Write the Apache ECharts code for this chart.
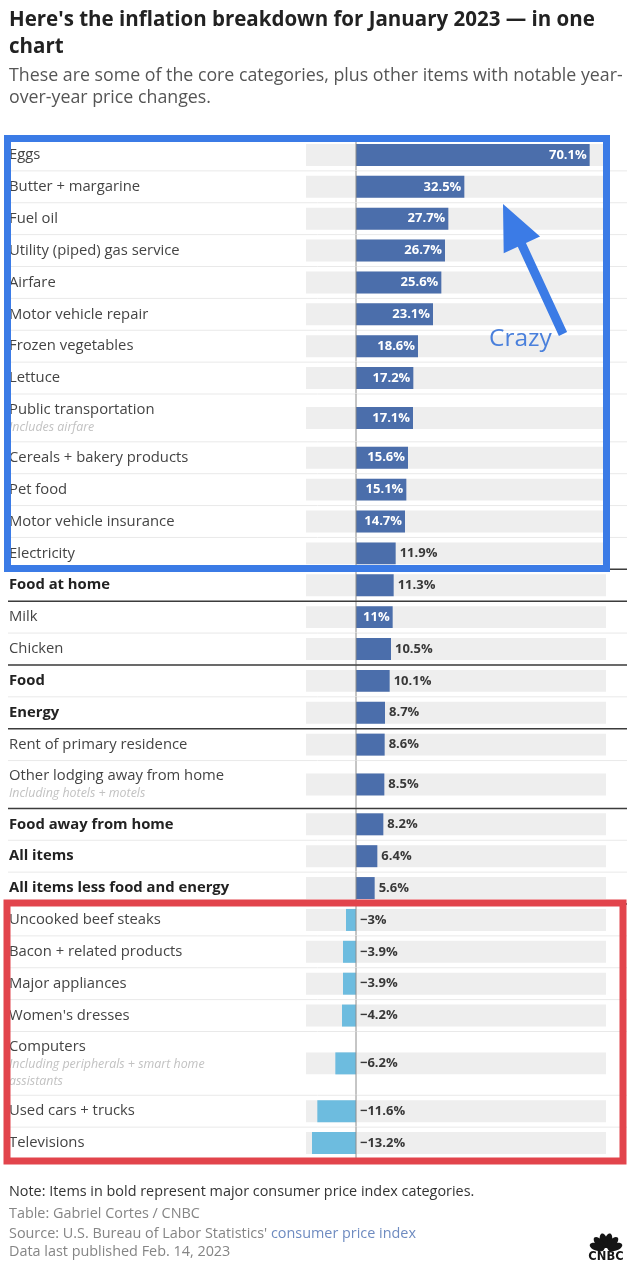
<!DOCTYPE html>
<html>
<head>
<meta charset="utf-8">
<script src="https://cdn.jsdelivr.net/npm/echarts@6/dist/echarts.min.js"></script>
<style>
html,body{margin:0;padding:0;background:#fff;}
#chart{width:630px;height:1280px;}
</style>
</head>
<body>
<div id="chart"></div>
<script>
// ---------- DATA ----------
const categories = [
  'Eggs','Butter + margarine','Fuel oil','Utility (piped) gas service','Airfare',
  'Motor vehicle repair','Frozen vegetables','Lettuce','Public transportation',
  'Cereals + bakery products','Pet food','Motor vehicle insurance','Electricity',
  'Food at home','Milk','Chicken','Food','Energy','Rent of primary residence',
  'Other lodging away from home','Food away from home','All items',
  'All items less food and energy','Uncooked beef steaks','Bacon + related products',
  'Major appliances',"Women's dresses",'Computers','Used cars + trucks','Televisions'
];
const values = [
  70.1,32.5,27.7,26.7,25.6,23.1,18.6,17.2,17.1,15.6,15.1,14.7,11.9,
  11.3,11,10.5,10.1,8.7,8.6,8.5,8.2,6.4,5.6,
  -3,-3.9,-3.9,-4.2,-6.2,-11.6,-13.2
];
const notes = [
  '','','','','','','','','Includes airfare','','','','',
  '','','','','','','Including hotels + motels','','','',
  '','','','','Including peripherals + smart home assistants','',''
];
const majorCategories = ['Food at home','Food','Energy','Food away from home','All items','All items less food and energy'];
const groupStarts = ['Food at home','Milk','Food','Rent of primary residence','Food away from home','Uncooked beef steaks'];
const axisMin = -15, axisMax = 75;

// ---------- LAYOUT HELPERS ----------
const FONT = '"Open Sans", Lato, sans-serif';
const POS = '#4b6eab', NEG = '#6dbcdf';
const cv = document.createElement('canvas').getContext('2d');
function textW(t, font){ cv.font = font; return cv.measureText(t).width; }
const NOTE_FONT = 'italic 12.4px ' + FONT;
const NOTE_W = 232;
const rowUnits = notes.map(n => {
  if (!n) return 1;
  const lines = textW(n, NOTE_FONT) > NOTE_W ? 2 : 1;
  return 1 + 0.5 * lines;
});
const rowStart = [];
let acc = 0;
rowUnits.forEach((u,i) => { rowStart.push(acc); acc += u; });
const totalUnits = acc;
const yCenters = rowUnits.map((u,i) => rowStart[i] + u/2);
const fmt = v => (v < 0 ? '\u2212' : '') + Math.abs(v) + '%';

const chart = echarts.init(document.getElementById('chart'), null, {renderer:'canvas'});

function renderItem(params, api) {
  const i = api.value(2);
  const v = api.value(0);
  const yc = api.value(1);
  const top = api.coord([0, rowStart[i]])[1];
  const bottom = api.coord([0, rowStart[i] + rowUnits[i]])[1];
  const cy = api.coord([0, yc])[1];
  const x0 = api.coord([0, yc])[0];
  const xv = api.coord([v, yc])[0];
  const xl = api.coord([axisMin, yc])[0];
  const xr = api.coord([axisMax, yc])[0];
  const bh = api.size([0, 1])[1] * 0.69;
  const name = categories[i];
  const bold = majorCategories.indexOf(name) >= 0;
  const note = notes[i];
  const children = [];
  children.push({type:'rect', shape:{x:xl, y:cy-bh/2, width:xr-xl, height:bh}, style:{fill:'#eeeeee'}});
  children.push({type:'rect', shape:{x:Math.min(x0,xv), y:cy-bh/2, width:Math.abs(xv-x0), height:bh}, style:{fill: v >= 0 ? POS : NEG}});
  children.push({type:'line', shape:{x1:x0, y1:top, x2:x0, y2:bottom}, style:{stroke:'#8c8c8c', lineWidth:1}});
  if (i < categories.length - 1) {
    children.push({type:'line', shape:{x1:8, y1:bottom, x2:627, y2:bottom}, style:{stroke:'#e9e9e9', lineWidth:1}});
  }
  if (groupStarts.indexOf(name) >= 0) {
    children.push({type:'line', shape:{x1:8, y1:top, x2:627, y2:top}, style:{stroke:'#3c3c3c', lineWidth:1.5}});
  }
  const labelY = note ? top + 15.5 : cy;
  children.push({type:'text', style:{
    text:name, x:9, y:labelY, fill: bold ? '#222' : '#444',
    font: (bold ? 'bold ' : '') + '14.8px ' + FONT,
    textAlign:'left', textVerticalAlign:'middle', align:'left', verticalAlign:'middle'
  }});
  if (note) {
    children.push({type:'text', style:{
      text:note, x:9, y:top + 24.5, fill:'#c2c2c2', font: NOTE_FONT,
      width: NOTE_W, overflow:'break', lineHeight:17,
      textAlign:'left', textVerticalAlign:'top', align:'left', verticalAlign:'top'
    }});
  }
  const lbl = fmt(v);
  const lblFont = 'bold 13px ' + FONT;
  const lw = textW(lbl, lblFont);
  const barW = Math.abs(xv - x0);
  if (v > 0 && lw + 6 < barW) {
    children.push({type:'text', style:{text:lbl, x:xv-3, y:cy, fill:'#fff', font:lblFont,
      textAlign:'right', textVerticalAlign:'middle', align:'right', verticalAlign:'middle'}});
  } else {
    const lx = v > 0 ? xv + 4 : x0 + 4;
    children.push({type:'text', style:{text:lbl, x:lx, y:cy, fill:'#383838', font:lblFont,
      textAlign:'left', textVerticalAlign:'middle', align:'left', verticalAlign:'middle'}});
  }
  return {type:'group', children};
}

// arrow geometry
function arrowPoints(tail, tip, shaftHalf, headLen, headHalf){
  const dx = tip[0]-tail[0], dy = tip[1]-tail[1];
  const L = Math.hypot(dx, dy);
  const d = [dx/L, dy/L], n = [-d[1], d[0]];
  const base = [tip[0]-d[0]*headLen, tip[1]-d[1]*headLen];
  const p = (o, k) => [o[0]+n[0]*k, o[1]+n[1]*k];
  return [tip, p(base, headHalf), p(base, shaftHalf), p(tail, shaftHalf), p(tail, -shaftHalf), p(base, -shaftHalf), p(base, -headHalf)];
}

const ANNO = '#3b7be6';
const feathers = [-72,-43,-14,14,43,72].map(a => ({
  type:'ellipse', x:606, y:1250, rotation: a*Math.PI/180,
  shape:{cx:0, cy:-9.5, rx:3.7, ry:7.5}, style:{fill:'#151515'}, z:50
}));

const option = {
  backgroundColor:'#fff',
  animation:false,
  grid:{left:306, width:300, top:139, height:1020, containLabel:false},
  xAxis:{type:'value', min:axisMin, max:axisMax, show:false, splitLine:{show:false}},
  yAxis:{type:'value', min:0, max:totalUnits, inverse:true, show:false, splitLine:{show:false}},
  series:[{
    type:'custom', renderItem, clip:false,
    encode:{x:0, y:1},
    data: categories.map((c,i) => [values[i], yCenters[i], i])
  }],
  graphic:[
    {type:'text', x:9, y:7, style:{text:"Here's the inflation breakdown for January 2023 \u2014 in one\nchart",
      font:'bold 20.5px ' + FONT, fill:'#222', lineHeight:27}},
    {type:'text', x:9, y:65, style:{text:'These are some of the core categories, plus other items with notable year-\nover-year price changes.',
      font:'17.8px ' + FONT, fill:'#555', lineHeight:22}},
    {type:'rect', z:60, shape:{x:7.5, y:138.5, width:599, height:430}, style:{fill:'none', stroke:ANNO, lineWidth:7}},
    {type:'rect', z:60, shape:{x:7, y:903, width:616, height:258}, style:{fill:'none', stroke:'#e2444c', lineWidth:7}},
    {type:'polygon', z:60, shape:{points: arrowPoints([563,334],[503,204],4.5,45,20)}, style:{fill:ANNO}},
    {type:'text', z:60, x:489, y:339, style:{text:'Crazy', font:'24.5px ' + FONT, fill:'#4a80dc', textVerticalAlign:'middle', verticalAlign:'middle'}},
    {type:'text', x:9, y:1192, style:{text:'Note: Items in bold represent major consumer price index categories.', font:'14.4px ' + FONT, fill:'#333', textVerticalAlign:'middle', verticalAlign:'middle'}},
    {type:'text', x:9, y:1214, style:{text:'Table: Gabriel Cortes / CNBC', font:'14.4px ' + FONT, fill:'#858585', textVerticalAlign:'middle', verticalAlign:'middle'}},
    {type:'text', x:9, y:1234, style:{text:"{a|Source: U.S. Bureau of Labor Statistics' }{b|consumer price index}",
      textVerticalAlign:'middle', verticalAlign:'middle',
      rich:{a:{font:'14.4px ' + FONT, fill:'#858585', color:'#858585'}, b:{font:'14.4px ' + FONT, fill:'#6e8bc0', color:'#6e8bc0'}}}},
    {type:'text', x:9, y:1252, style:{text:'Data last published Feb. 14, 2023', font:'14.4px ' + FONT, fill:'#858585', textVerticalAlign:'middle', verticalAlign:'middle'}},
    ...feathers,
    {type:'text', z:50, x:606, y:1257, style:{text:'CNBC', font:'bold 11.5px "DejaVu Sans", sans-serif', fill:'#151515', textAlign:'center', align:'center', textVerticalAlign:'middle', verticalAlign:'middle'}}
  ]
};
chart.setOption(option);
</script>
</body>
</html>
